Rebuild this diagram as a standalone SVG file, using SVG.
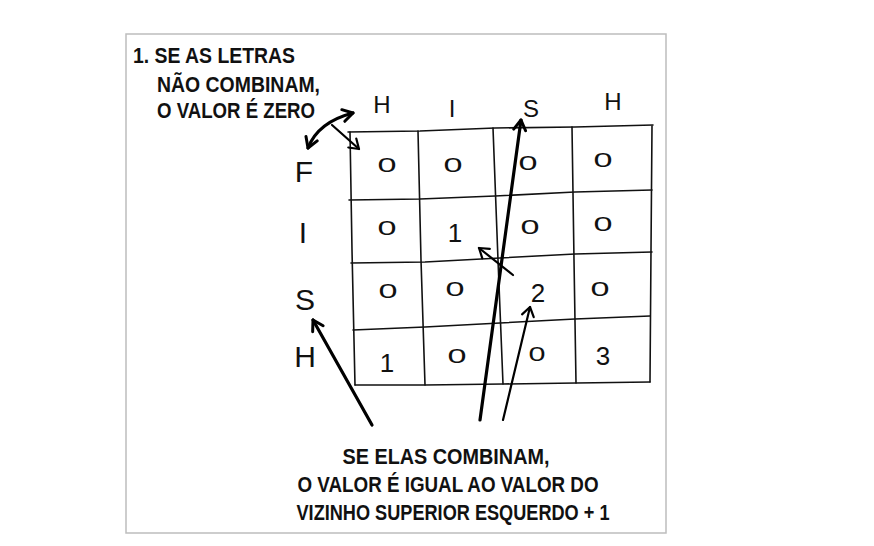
<svg xmlns="http://www.w3.org/2000/svg" width="874" height="546" viewBox="0 0 874 546">
<defs>
<style>
.cap{font-family:"Liberation Sans",Arial,sans-serif;font-size:22px;font-weight:bold;fill:#111}
.lab{font-family:"Liberation Sans",Arial,sans-serif;fill:#111;text-anchor:middle}
.grid{fill:none;stroke:#111;stroke-width:1.6;stroke-linecap:round;stroke-linejoin:round}
.arr{fill:none;stroke:#000;stroke-width:3.2;stroke-linecap:round}
.arr2{fill:none;stroke:#000;stroke-width:2.2;stroke-linecap:round}
</style>
<marker id="ah" viewBox="-12 -8 14 16" markerWidth="14" markerHeight="16" markerUnits="userSpaceOnUse" orient="auto-start-reverse" refX="0" refY="0">
<path d="M-10,-6 L0,0 L-10,6" fill="none" stroke="#000" stroke-width="3" stroke-linecap="round" stroke-linejoin="round"/>
</marker>
<marker id="ah2" viewBox="-12 -8 14 16" markerWidth="14" markerHeight="16" markerUnits="userSpaceOnUse" orient="auto" refX="0" refY="0">
<path d="M-9,-6 L0,0 L-9,6" fill="none" stroke="#000" stroke-width="2.2" stroke-linecap="round" stroke-linejoin="round"/>
</marker>
</defs>
<rect x="0" y="0" width="874" height="546" fill="#fff"/>
<rect id="frame" x="126" y="34" width="540" height="499" fill="#fff" stroke="#bdbdbd" stroke-width="1.5"/>

<g id="caption-top">
<text class="cap" x="133" y="63" textLength="162" lengthAdjust="spacingAndGlyphs">1. SE AS LETRAS</text>
<text class="cap" x="157" y="92" textLength="163" lengthAdjust="spacingAndGlyphs">NÃO COMBINAM,</text>
<text class="cap" x="157" y="118" textLength="158" lengthAdjust="spacingAndGlyphs">O VALOR É ZERO</text>
</g>

<g id="grid">
<path class="grid" d="M348,132 L420,131 L495,128 L575,127 L653,125"/>
<path class="grid" d="M349,200 L420,199 L495,196 L575,192 L652,190"/>
<path class="grid" d="M351,263 L425,262 L500,258 L575,254 L652,252"/>
<path class="grid" d="M353,330 L425,327 L500,323 L575,319 L650,316"/>
<path class="grid" d="M355,385 L425,385 L503,384 L576,383 L650,382"/>
<path class="grid" d="M350,132 L352,250 L355,385"/>
<path class="grid" d="M418,131 L421,260 L425,385"/>
<path class="grid" d="M493,128 L498,260 L503,384"/>
<path class="grid" d="M572,127 L574,260 L576,383"/>
<path class="grid" d="M652,126 L651,250 L650,382"/>
</g>

<g id="col-labels" class="lab" font-size="24">
<text x="382" y="113">H</text>
<text x="452" y="117">I</text>
<text x="531" y="117">S</text>
<text x="613" y="110">H</text>
</g>
<g id="row-labels" class="lab" font-size="30">
<text x="304" y="182">F</text>
<text x="303" y="243">I</text>
<text x="305" y="310">S</text>
<text x="305" y="367">H</text>
</g>

<g id="values" class="lab">
<g font-size="21">
<text x="387" y="172" textLength="19" lengthAdjust="spacingAndGlyphs">0</text>
<text x="453" y="172" textLength="19" lengthAdjust="spacingAndGlyphs">0</text>
<text x="528" y="170" textLength="19" lengthAdjust="spacingAndGlyphs">0</text>
<text x="603" y="167" textLength="19" lengthAdjust="spacingAndGlyphs">0</text>
<text x="387" y="235" textLength="19" lengthAdjust="spacingAndGlyphs">0</text>
<text x="530" y="234" textLength="19" lengthAdjust="spacingAndGlyphs">0</text>
<text x="603" y="231" textLength="19" lengthAdjust="spacingAndGlyphs">0</text>
<text x="388" y="298" textLength="19" lengthAdjust="spacingAndGlyphs">0</text>
<text x="455" y="296" textLength="19" lengthAdjust="spacingAndGlyphs">0</text>
<text x="600" y="296" textLength="19" lengthAdjust="spacingAndGlyphs">0</text>
<text x="457" y="363" textLength="19" lengthAdjust="spacingAndGlyphs">0</text>
<text x="537" y="361" textLength="17" lengthAdjust="spacingAndGlyphs">0</text>
</g>
<g font-size="26">
<text x="455" y="242">1</text>
<text x="538" y="302">2</text>
<text x="387" y="372">1</text>
<text x="603" y="365">3</text>
</g>
</g>

<g id="connectors">
<path class="arr" d="M308,148 Q318,122 353,113" marker-start="url(#ah)" marker-end="url(#ah)"/>
<path class="arr2" d="M332,125 L359,149" marker-end="url(#ah2)"/>
<path class="arr" d="M480,420 L521,120" marker-end="url(#ah)"/>
<path class="arr2" d="M503,420 L530,307" marker-end="url(#ah2)"/>
<path class="arr2" d="M513,275 L479,248" marker-end="url(#ah2)"/>
<path class="arr" d="M372,425 L313,320" marker-end="url(#ah)"/>
</g>

<g id="caption-bottom">
<text class="cap" x="446" y="464" text-anchor="middle" textLength="207" lengthAdjust="spacingAndGlyphs">SE ELAS COMBINAM,</text>
<text class="cap" x="448" y="492" text-anchor="middle" textLength="301" lengthAdjust="spacingAndGlyphs">O VALOR É IGUAL AO VALOR DO</text>
<text class="cap" x="453" y="520" text-anchor="middle" textLength="313" lengthAdjust="spacingAndGlyphs">VIZINHO SUPERIOR ESQUERDO + 1</text>
</g>
</svg>
